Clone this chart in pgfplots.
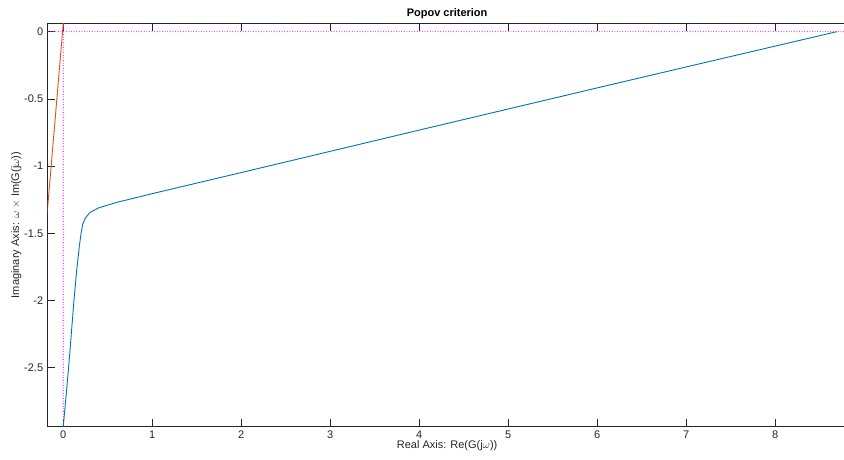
\documentclass[border=0pt]{standalone}
\usepackage{fontspec}
\setmainfont{Liberation Sans}
\usepackage{pgfplots}
\pgfplotsset{compat=1.18}
\usetikzlibrary{calc}

\definecolor{mblue}{rgb}{0,0.447,0.741}
\definecolor{morange}{rgb}{0.85,0.325,0.098}
\definecolor{mmag}{rgb}{1,0,1}
\definecolor{axgray}{rgb}{0.15,0.15,0.15}

\begin{document}
\begin{tikzpicture}
\begin{axis}[
  name=ax,
  scale only axis,
  width=798.8pt, height=403.4pt,
  xmin=-0.175, xmax=8.8,
  ymin=-2.939, ymax=0.0625,
  xtick={0,1,2,3,4,5,6,7,8},
  ytick={-2.5,-2,-1.5,-1,-0.5,0},
  ytick pos=left,
  tick align=inside,
  major tick length=7.5pt,
  axis line style={axgray, line width=0.6pt},
  tick style={axgray, line width=0.6pt},
  tick label style={font=\fontsize{11}{12}\selectfont, text=axgray},
  /pgf/number format/assume math mode=true,
  xticklabel style={yshift=-1pt},
  yticklabel style={xshift=-1pt},
  title={\textbf{Popov criterion}},
  title style={font=\fontsize{11}{12}\selectfont, yshift=-5pt},
  xlabel={Real Axis: Re(G(j$\omega$))},
  ylabel={Imaginary Axis: $\omega$ $\times$ Im(G(j$\omega$))},
  label style={font=\fontsize{11}{12}\selectfont, text=axgray},
  xlabel style={yshift=5pt},
  ylabel style={yshift=-4pt},
]
% reference lines
\addplot[draw=mmag, line cap=round, dash pattern=on 0pt off 2.6pt, line width=1.1pt] coordinates {(-0.2,0) (9,0)};
\addplot[draw=mmag, line cap=round, dash pattern=on 0pt off 2.6pt, line width=1.1pt] coordinates {(0,-3) (0,0.2)};

% Popov plot
\addplot[mblue, line width=0.9pt] coordinates {
  (0.000,-2.939)
  (0.030,-2.72)
  (0.060,-2.50)
  (0.090,-2.25)
  (0.120,-2.00)
  (0.150,-1.78)
  (0.180,-1.60)
  (0.200,-1.50)
  (0.220,-1.43)
  (0.250,-1.385)
  (0.300,-1.345)
  (0.400,-1.31)
  (0.600,-1.27)
  (1.000,-1.205)
  (2.000,-1.048)
  (3.000,-0.890)
  (4.000,-0.732)
  (5.000,-0.575)
  (6.000,-0.418)
  (7.000,-0.262)
  (8.000,-0.107)
  (8.690,0.000)
};

% Popov line
\addplot[morange, line width=0.9pt] coordinates {(-0.2,-1.498) (0.02,0.218)};
\end{axis}
\pgfresetboundingbox
\path ($(ax.south west)+(-47.7pt,-33.3pt)$) rectangle ($(ax.north east)+(-2.5pt,23.3pt)$);
\end{tikzpicture}
\end{document}
